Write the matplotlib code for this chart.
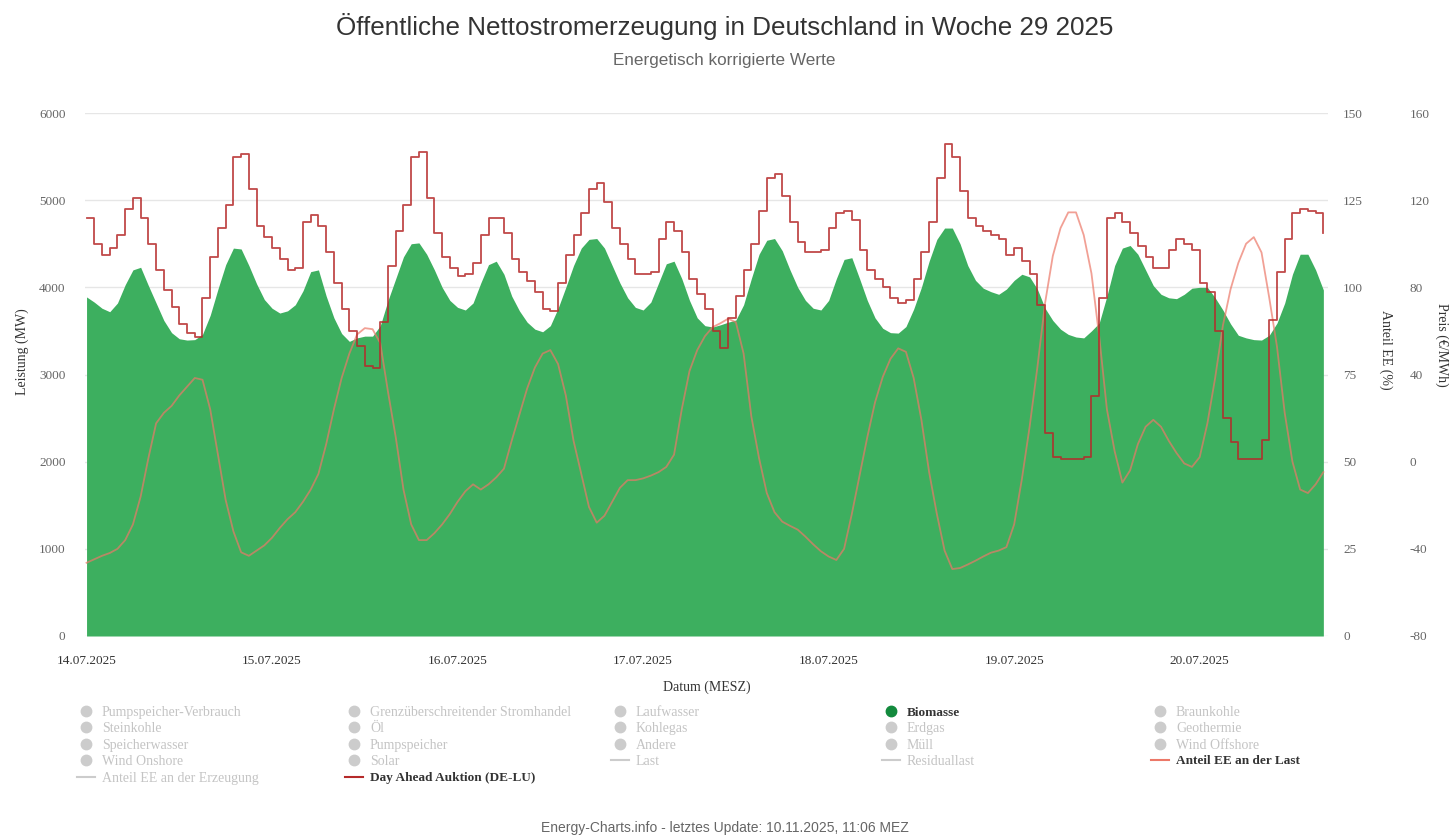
import numpy as np
import matplotlib
matplotlib.use('Agg')
import matplotlib.pyplot as plt
from matplotlib.lines import Line2D

plt.rcParams['font.family'] = ['Liberation Serif', 'DejaVu Serif']
plt.rcParams['axes.unicode_minus'] = False

# Stunden ab 14.07.2025 00:00 (MESZ)
day_labels = ['14.07.2025', '15.07.2025', '16.07.2025', '17.07.2025',
              '18.07.2025', '19.07.2025', '20.07.2025']

# Biomasse (MW), stuendlich
biomass_hours = np.arange(0, 161)
biomass_mw = [3890, 3830, 3760, 3720, 3820, 4030, 4200, 4230, 4020, 3820,
              3620, 3480, 3410, 3395, 3400, 3460, 3680, 3980, 4260, 4450,
              4440, 4250, 4040, 3860, 3760, 3705, 3730, 3800, 3960, 4180,
              4200, 3900, 3650, 3470, 3380, 3420, 3440, 3440, 3560, 3850,
              4100, 4350, 4500, 4510, 4380, 4200, 4000, 3850, 3770, 3740,
              3820, 4050, 4260, 4300, 4150, 3900, 3730, 3600, 3520, 3490,
              3560, 3760, 4000, 4250, 4450, 4550, 4560, 4450, 4250, 4050,
              3880, 3770, 3740, 3830, 4050, 4270, 4300, 4100, 3850, 3650,
              3560, 3545, 3570, 3600, 3625, 3800, 4100, 4380, 4540, 4560,
              4420, 4200, 4000, 3850, 3760, 3740, 3850, 4100, 4320, 4340,
              4100, 3850, 3650, 3530, 3480, 3475, 3550, 3750, 4000, 4300,
              4550, 4680, 4680, 4500, 4250, 4080, 3990, 3950, 3920, 3980,
              4080, 4150, 4120, 3980, 3760, 3620, 3520, 3460, 3430, 3420,
              3500, 3590, 3900, 4250, 4450, 4480, 4380, 4200, 4020, 3920,
              3880, 3870, 3920, 3990, 4000, 4000, 3880, 3740, 3580, 3450,
              3420, 3400, 3395, 3450, 3590, 3820, 4150, 4380, 4380, 4200,
              3970]

# Day Ahead Auktion (DE-LU) in EUR/MWh, stuendlich
price_hours = np.arange(0, 161)
price_eur = [112, 100, 95, 98, 104, 116, 121, 112, 100, 88,
             79, 71, 63, 59, 57, 75, 94, 107, 118, 140,
             141, 125, 108, 103, 98, 93, 88, 89, 110, 113,
             108, 96, 82, 70, 60, 53, 44, 43, 64, 90,
             106, 118, 140, 142, 121, 105, 94, 89, 85, 86,
             91, 104, 112, 112, 105, 93, 87, 83, 78, 70,
             69, 82, 95, 104, 114, 125, 128, 119, 107, 100,
             93, 86, 86, 87, 102, 110, 106, 96, 84, 77,
             70, 60, 52, 66, 76, 88, 100, 115, 130, 132,
             122, 110, 101, 96, 96, 97, 107, 114, 115, 111,
             97, 88, 84, 80, 75, 73, 74, 84, 96, 110,
             130, 146, 140, 124, 112, 108, 106, 104, 102, 95,
             98, 92, 86, 72, 13, 2, 1, 1, 1, 2,
             30, 75, 112, 114, 110, 105, 99, 94, 89, 89,
             97, 102, 100, 97, 82, 78, 60, 20, 9, 1,
             1, 1, 10, 65, 87, 102, 114, 116, 115, 114,
             105]

# Anteil EE an der Last (%), stuendlich
ee_hours = np.arange(0, 161)
ee_share = [21, 22, 23, 23.8, 25, 27.5, 32, 40, 51, 61,
            64, 66, 69, 71.5, 74, 73.5, 65, 52, 39, 30,
            24, 23, 24.5, 26, 28.2, 31, 33.5, 35.5, 38.5, 42,
            46.5, 55, 65, 74, 81, 86.5, 88.3, 88, 84, 70,
            57, 42, 32, 27.5, 27.5, 29.5, 32, 35, 38.5, 41.5,
            43.5, 42, 43.5, 45.5, 48, 56, 63.5, 71, 77, 81,
            82, 78, 69, 56, 46.5, 37, 32.5, 34.5, 38.5, 42.5,
            44.7, 44.7, 45.2, 46, 47, 48.5, 52, 65, 76, 82,
            86, 88.6, 89.7, 91, 90, 81, 63, 51, 41, 35.5,
            32.8, 31.6, 30.5, 28.5, 26.3, 24.3, 22.8, 21.8, 25, 35,
            46, 57, 67, 74.3, 79.5, 82.5, 81.5, 74, 62, 47,
            35, 24.5, 19.2, 19.5, 20.5, 21.6, 22.8, 23.9, 24.5, 25.5,
            32, 45, 60, 77, 95.5, 109, 117, 121.5, 121.5, 115,
            104, 86, 65, 53, 44, 47.5, 55, 60, 62, 60,
            56, 52.5, 49.5, 48.5, 51.3, 61, 74, 89, 99.5, 107,
            112.5, 114.4, 110, 97, 83, 64, 50, 42, 41, 43.5,
            47]

legend_rows = [
    ['Pumpspeicher-Verbrauch', 'Grenzüberschreitender Stromhandel', 'Laufwasser', 'Biomasse', 'Braunkohle'],
    ['Steinkohle', 'Öl', 'Kohlegas', 'Erdgas', 'Geothermie'],
    ['Speicherwasser', 'Pumpspeicher', 'Andere', 'Müll', 'Wind Offshore'],
    ['Wind Onshore', 'Solar', 'Last', 'Residuallast', 'Anteil EE an der Last'],
    ['Anteil EE an der Erzeugung', 'Day Ahead Auktion (DE-LU)'],
]
line_items = ['Last', 'Residuallast', 'Anteil EE an der Last',
              'Anteil EE an der Erzeugung', 'Day Ahead Auktion (DE-LU)']

green = '#3daf5f'
price_col = '#b52a2a'
ee_col = '#ec7868'
W, H = 1449, 836

fig = plt.figure(figsize=(W / 100, H / 100), dpi=100)
ax = fig.add_axes([85 / W, 1 - 636 / H, (1328 - 85) / W, (636 - 113) / H])

ax.fill_between(biomass_hours, biomass_mw, 0, color=green, lw=0, zorder=2)
ax.set_ylim(0, 6000)
ax.set_xlim(-0.2, 160.6)
ax.set_yticks(np.arange(0, 6001, 1000))
ax.set_xticks(np.arange(0, 145, 24))
ax.set_xticklabels(day_labels)
ax.grid(axis='y', color='#e6e6e6', lw=1, zorder=0)
ax.set_axisbelow(True)
ax.tick_params(axis='y', length=0, pad=14, labelsize=9.5, labelcolor='#666666')
ax.tick_params(axis='x', length=0, pad=14, labelsize=9.5, labelcolor='#333333')
for s in ax.spines.values():
    s.set_visible(False)

ax2 = ax.twinx()
ax2.plot(ee_hours, ee_share, color=ee_col, lw=1.3, alpha=0.7, zorder=3)
ax2.set_ylim(0, 150)
ax2.set_yticks(np.arange(0, 151, 25))
ax2.tick_params(axis='y', length=0, pad=11, labelsize=9.5, labelcolor='#666666')

ax3 = ax.twinx()
ax3.step(price_hours, price_eur, where='post', color=price_col, lw=1.3, alpha=0.85, zorder=4)
ax3.set_ylim(-80, 160)
ax3.set_yticks(np.arange(-80, 161, 40))
ax3.spines['right'].set_position(('outward', 48))
ax3.tick_params(axis='y', length=0, pad=11, labelsize=9.5, labelcolor='#666666')
for a in (ax2, ax3):
    for s in a.spines.values():
        s.set_visible(False)

# Achsentitel
fig.text(22 / W, 1 - 352 / H, 'Leistung (MW)', rotation=90, ha='center', va='center',
         fontsize=10, color='#333333')
fig.text(1386 / W, 1 - 350 / H, 'Anteil EE (%)', rotation=270, ha='center', va='center',
         fontsize=10, color='#333333')
fig.text(1442 / W, 1 - 345 / H, 'Preis (€/MWh)', rotation=270, ha='center', va='center',
         fontsize=10, color='#333333')
fig.text(707 / W, 1 - 687 / H, 'Datum (MESZ)', ha='center', va='center',
         fontsize=10, color='#333333')

# Titel
fig.text(0.5, 1 - 27 / H, 'Öffentliche Nettostromerzeugung in Deutschland in Woche 29 2025',
         ha='center', va='center', fontsize=18.7, color='#333333', family='Liberation Sans')
fig.text(0.5, 1 - 60 / H, 'Energetisch korrigierte Werte', ha='center', va='center',
         fontsize=12.3, color='#666666', family='Liberation Sans')
fig.text(725 / W, 1 - 828 / H, 'Energy-Charts.info - letztes Update: 10.11.2025, 11:06 MEZ',
         ha='center', va='center', fontsize=10, color='#666666', family='Liberation Sans')

# Legende
col_x = [86, 354, 620, 891, 1160]
row_y = [711, 727, 744, 760, 777]
active = {'Biomasse': '#138a3d', 'Day Ahead Auktion (DE-LU)': price_col,
          'Anteil EE an der Last': ee_col}
for r, row in enumerate(legend_rows):
    for c, name in enumerate(row):
        x = col_x[c] / W
        y = 1 - row_y[r] / H
        col = active.get(name, '#cccccc')
        if name in line_items:
            fig.add_artist(Line2D([x - 9 / W, x + 9 / W], [y, y], transform=fig.transFigure,
                                  color=col, lw=1.5))
        else:
            fig.add_artist(Line2D([x], [y], transform=fig.transFigure, marker='o',
                                  markersize=7.5, color=col, lw=0))
        on = name in active
        fig.text(x + 16 / W, y, name, ha='left', va='center_baseline',
                 fontsize=9.5 if on else 10,
                 color='#333333' if on else '#c4c4c4',
                 fontweight='bold' if on else 'normal')

fig.savefig('out.png', dpi=100)
